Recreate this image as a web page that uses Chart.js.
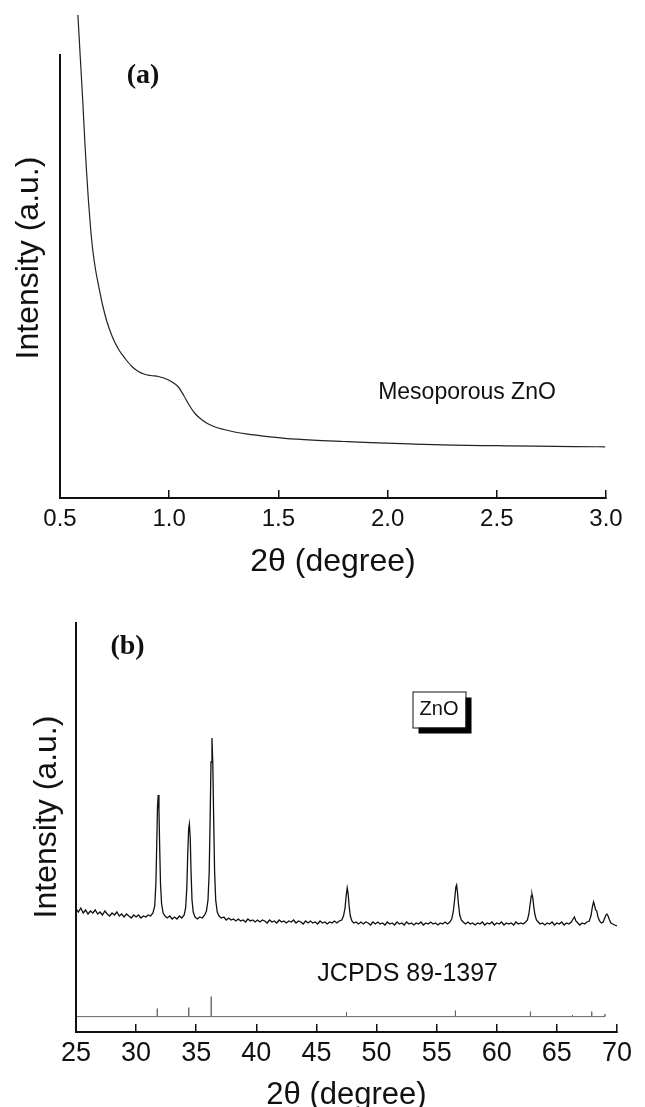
<!DOCTYPE html>
<html>
<head>
<meta charset="utf-8">
<script src="https://cdn.jsdelivr.net/npm/chart.js@4.4.1/dist/chart.umd.min.js"></script>
<style>
  body { margin: 0; background: #fff; }
  canvas { position: absolute; left: 0; }
  #chartA { top: 0; }
  #chartB { top: 600px; }
</style>
</head>
<body>
<canvas id="chartA" width="645" height="600"></canvas>
<canvas id="chartB" width="645" height="507"></canvas>
<script>
// (a) low-angle scan
const lowAngle = [0.582, 0.593, 0.604, 0.614, 0.622, 0.630, 0.640, 0.650, 0.663, 0.677,
  0.695, 0.714, 0.740, 0.770, 0.800, 0.827, 0.855, 0.884, 0.915, 0.950,
  0.975, 0.997, 1.020, 1.044, 1.068, 1.091, 1.120, 1.148, 1.175, 1.204,
  1.250, 1.299, 1.360, 1.431, 1.530, 1.657, 1.800, 1.921, 2.100, 2.298,
  2.500, 2.676, 2.850, 2.996];
const lowIntensity = [483, 440, 398, 355, 325, 298, 270, 248, 228, 212,
  193, 177, 161, 148, 139, 132, 127, 124, 122.5, 121.5,
  120, 118, 115, 110.5, 102, 93, 84, 78.5, 74.5, 71.5,
  68.5, 66, 63.8, 61.9, 59.7, 57.9, 56.5, 55.4, 54.1, 52.9,
  52.3, 51.8, 51.4, 51.2];
const lowTicks = [0.5, 1.0, 1.5, 2.0, 2.5, 3.0];

// (b) wide-angle scan
const wideAngle = [25.0, 25.2, 25.4, 25.6, 25.8, 26.0, 26.2, 26.4, 26.6, 26.8,
  27.0, 27.2, 27.4, 27.6, 27.8, 28.0, 28.2, 28.4, 28.6, 28.8,
  29.0, 29.2, 29.4, 29.6, 29.8, 30.0, 30.2, 30.4, 30.6, 30.8,
  31.0, 31.2, 31.4, 31.55, 31.65, 31.72, 31.78, 31.84, 31.90, 31.96,
  32.03, 32.12, 32.25, 32.4, 32.6, 32.8, 33.0, 33.2, 33.4, 33.6,
  33.8, 34.0, 34.12, 34.22, 34.30, 34.37, 34.43, 34.50, 34.57, 34.65,
  34.75, 34.9, 35.1, 35.3, 35.5, 35.7, 35.85, 35.98, 36.08, 36.16,
  36.23, 36.31, 36.38, 36.45, 36.53, 36.62, 36.75, 36.9, 37.1, 37.3,
  37.5, 37.7, 37.9, 38.1, 38.3, 38.5, 38.7, 38.9, 39.1, 39.3,
  39.5, 39.7, 39.9, 40.1, 40.3, 40.5, 40.7, 40.9, 41.1, 41.3,
  41.5, 41.7, 41.9, 42.1, 42.3, 42.5, 42.7, 42.9, 43.1, 43.3,
  43.5, 43.7, 43.9, 44.1, 44.3, 44.5, 44.7, 44.9, 45.1, 45.3,
  45.5, 45.7, 45.9, 46.1, 46.3, 46.5, 46.7, 46.9, 47.1, 47.25,
  47.38, 47.48, 47.56, 47.64, 47.72, 47.82, 47.95, 48.1, 48.3, 48.5,
  48.7, 48.9, 49.1, 49.3, 49.5, 49.7, 49.9, 50.1, 50.3, 50.5,
  50.7, 50.9, 51.1, 51.3, 51.5, 51.7, 51.9, 52.1, 52.3, 52.5,
  52.7, 52.9, 53.1, 53.3, 53.5, 53.7, 53.9, 54.1, 54.3, 54.5,
  54.7, 54.9, 55.1, 55.3, 55.5, 55.7, 55.9, 56.1, 56.25, 56.38,
  56.5, 56.6, 56.66, 56.73, 56.82, 56.92, 57.05, 57.2, 57.4, 57.6,
  57.8, 58.0, 58.2, 58.4, 58.6, 58.8, 59.0, 59.2, 59.4, 59.6,
  59.8, 60.0, 60.2, 60.4, 60.6, 60.8, 61.0, 61.2, 61.4, 61.6,
  61.8, 62.0, 62.2, 62.4, 62.55, 62.67, 62.78, 62.87, 62.93, 63.0,
  63.08, 63.18, 63.3, 63.45, 63.6, 63.8, 64.0, 64.2, 64.4, 64.6,
  64.8, 65.0, 65.2, 65.4, 65.6, 65.8, 66.0, 66.2, 66.35, 66.46,
  66.58, 66.75, 66.9, 67.1, 67.3, 67.5, 67.7, 67.85, 67.95, 68.05,
  68.13, 68.22, 68.32, 68.42, 68.55, 68.7, 68.85, 68.98, 69.08, 69.16,
  69.26, 69.38, 69.5, 69.65, 69.8, 70.0];
const wideIntensity = [123, 120, 124, 119, 122, 118, 121, 119, 122, 118,
  120, 117, 121, 118, 116, 119, 117, 120, 116, 118,
  115, 118, 116, 114, 117, 115, 117, 114, 116, 115,
  117, 116, 119, 126, 150, 190, 225, 237, 222, 185,
  148, 128, 119, 116, 114, 116, 113, 115, 113, 116,
  114, 117, 124, 145, 180, 203, 208, 195, 160, 132,
  120, 115, 113, 115, 114, 117, 121, 132, 160, 215,
  270, 294, 268, 215, 160, 132, 120, 116, 114, 115,
  112, 114, 112, 113, 111, 113, 111, 112, 110, 113,
  111, 112, 110, 112, 110, 112, 111, 109, 112, 110,
  111, 109, 112, 110, 111, 109, 111, 110, 112, 109,
  111, 110, 108, 111, 109, 111, 109, 110, 108, 111,
  109, 110, 108, 110, 109, 111, 109, 111, 112, 116,
  124, 137, 144, 138, 126, 116, 111, 109, 110, 108,
  110, 108, 110, 109, 107, 110, 108, 110, 108, 109,
  107, 110, 108, 109, 107, 110, 108, 109, 107, 110,
  108, 109, 107, 109, 108, 110, 107, 109, 108, 110,
  108, 109, 107, 109, 108, 110, 108, 110, 113, 120,
  133, 145, 147, 140, 127, 117, 112, 110, 108, 110,
  108, 109, 107, 109, 108, 110, 107, 109, 108, 110,
  107, 109, 108, 110, 107, 109, 108, 109, 107, 110,
  108, 109, 108, 110, 112, 118, 128, 136, 138, 134,
  125, 117, 112, 110, 108, 109, 107, 109, 108, 110,
  107, 109, 108, 110, 107, 109, 108, 110, 113, 115,
  111, 109, 107, 109, 108, 110, 111, 117, 125, 130,
  127, 122, 121, 115, 111, 109, 110, 114, 117, 118,
  116, 112, 109, 108, 107, 106];
const wideTicks = [25, 30, 35, 40, 45, 50, 55, 60, 65, 70];

// JCPDS 89-1397 reference lines
const refAngle = [31.76, 34.38, 36.25, 47.5, 56.56, 62.8, 66.3, 67.9, 69.0];
const refHeight = [8, 9, 20, 4.3, 6, 5, 1.5, 5, 2.5];
const refLevel = 15.4;

const INK = "#111";
const SANS = "'Liberation Sans', Arial, Helvetica, sans-serif";
const SERIF = "'Liberation Serif', 'Times New Roman', serif";

const refPath = [{ x: 25, y: refLevel }];
refAngle.forEach((a, i) => {
    refPath.push({ x: a, y: refLevel });
    refPath.push({ x: a, y: refLevel + refHeight[i] });
    refPath.push({ x: a, y: refLevel });
});

const decor = {
    id: "decor",
    afterDraw(chart, args, opts) {
        const ctx = chart.ctx;
        const area = chart.chartArea;
        const top = chart.scales.y.getPixelForValue(opts.axisTop);
        ctx.save();
        ctx.strokeStyle = INK;
        ctx.lineWidth = 2;
        ctx.beginPath();
        ctx.moveTo(area.left, top);
        ctx.lineTo(area.left, area.bottom + 1);
        ctx.stroke();
        opts.labels.forEach((l) => {
            ctx.font = l.font;
            ctx.textAlign = l.align || "center";
            ctx.textBaseline = l.baseline || "middle";
            if (l.box) {
                const [bx, by, bw, bh] = l.box;
                ctx.fillStyle = "#000";
                ctx.fillRect(bx + 6, by + 6, bw, bh);
                ctx.fillStyle = "#fff";
                ctx.fillRect(bx, by, bw, bh);
                ctx.lineWidth = 1;
                ctx.strokeRect(bx + 0.5, by + 0.5, bw, bh);
            }
            ctx.fillStyle = INK;
            ctx.fillText(l.text, l.x, l.y);
        });
        ctx.restore();
    },
};

function xAxis(min, max, ticks, fmt, tickSize, tickPad, height, titleSize, titlePad) {
    return {
        type: "linear",
        min: min,
        max: max,
        afterBuildTicks: (s) => { s.ticks = ticks.map((v) => ({ value: v })); },
        afterFit: (s) => { s.height = height; },
        grid: { drawOnChartArea: false, drawTicks: true, tickLength: -8, color: INK, lineWidth: 1.5 },
        border: { display: true, color: INK, width: 2 },
        ticks: {
            callback: fmt,
            color: INK,
            maxRotation: 0,
            autoSkip: false,
            padding: tickPad,
            font: { family: SANS, size: tickSize, lineHeight: 1.2 },
        },
        title: {
            display: true,
            text: "2θ (degree)",
            color: INK,
            font: { family: SANS, size: titleSize, lineHeight: 1 },
            padding: { top: 0, bottom: titlePad },
        },
    };
}

function yAxis(max, width, titlePad) {
    return {
        type: "linear",
        min: 0,
        max: max,
        afterFit: (s) => { s.width = width; },
        grid: { display: false },
        border: { display: false },
        ticks: { display: false },
        title: {
            display: true,
            text: "Intensity (a.u.)",
            color: INK,
            font: { family: SANS, size: 32, lineHeight: 1.2 },
            padding: { top: titlePad, bottom: 0 },
        },
    };
}

new Chart(document.getElementById("chartA"), {
    type: "scatter",
    data: {
        datasets: [{
            data: lowAngle.map((a, i) => ({ x: a, y: lowIntensity[i] })),
            showLine: true,
            borderColor: "#222",
            borderWidth: 1.2,
            pointRadius: 0,
            cubicInterpolationMode: "monotone",
            clip: false,
        }],
    },
    options: {
        responsive: false,
        animation: false,
        devicePixelRatio: 1,
        layout: { padding: { left: 0, right: 39, top: 18, bottom: 0 } },
        scales: {
            x: xAxis(0.5, 3.0, lowTicks, (v) => v.toFixed(1), 24, 14.5, 102, 32, 22),
            y: yAxis(480, 60, 10),
        },
        plugins: {
            legend: { display: false },
            tooltip: { enabled: false },
            decor: {
                axisTop: 444,
                labels: [
                    { text: "(a)", x: 143, y: 76, font: "bold 28px " + SERIF },
                    { text: "Mesoporous ZnO", x: 467, y: 399, baseline: "alphabetic", font: "23px " + SANS },
                ],
            },
        },
    },
    plugins: [decor],
});

new Chart(document.getElementById("chartB"), {
    type: "scatter",
    data: {
        datasets: [
            {
                data: wideAngle.map((a, i) => ({ x: a, y: wideIntensity[i] })),
                showLine: true,
                borderColor: "#111",
                borderWidth: 1.3,
                pointRadius: 0,
            },
            {
                data: refPath,
                showLine: true,
                borderColor: "#666",
                borderWidth: 1,
                pointRadius: 0,
            },
        ],
    },
    options: {
        responsive: false,
        animation: false,
        devicePixelRatio: 1,
        layout: { padding: { left: 0, right: 18, top: 2, bottom: 0 } },
        scales: {
            x: xAxis(25, 70, wideTicks, (v) => String(v), 27, 13, 75, 31, -4),
            y: yAxis(430, 76, 28),
        },
        plugins: {
            legend: { display: false },
            tooltip: { enabled: false },
            decor: {
                axisTop: 410,
                labels: [
                    { text: "(b)", x: 127.5, y: 47, font: "bold 28px " + SERIF },
                    { text: "ZnO", x: 439, y: 109.5, box: [412.5, 91.5, 53, 36], font: "20px " + SANS },
                    { text: "JCPDS 89-1397", x: 498, y: 381, align: "right", baseline: "alphabetic", font: "25px " + SANS },
                ],
            },
        },
    },
    plugins: [decor],
});
</script>
</body>
</html>
